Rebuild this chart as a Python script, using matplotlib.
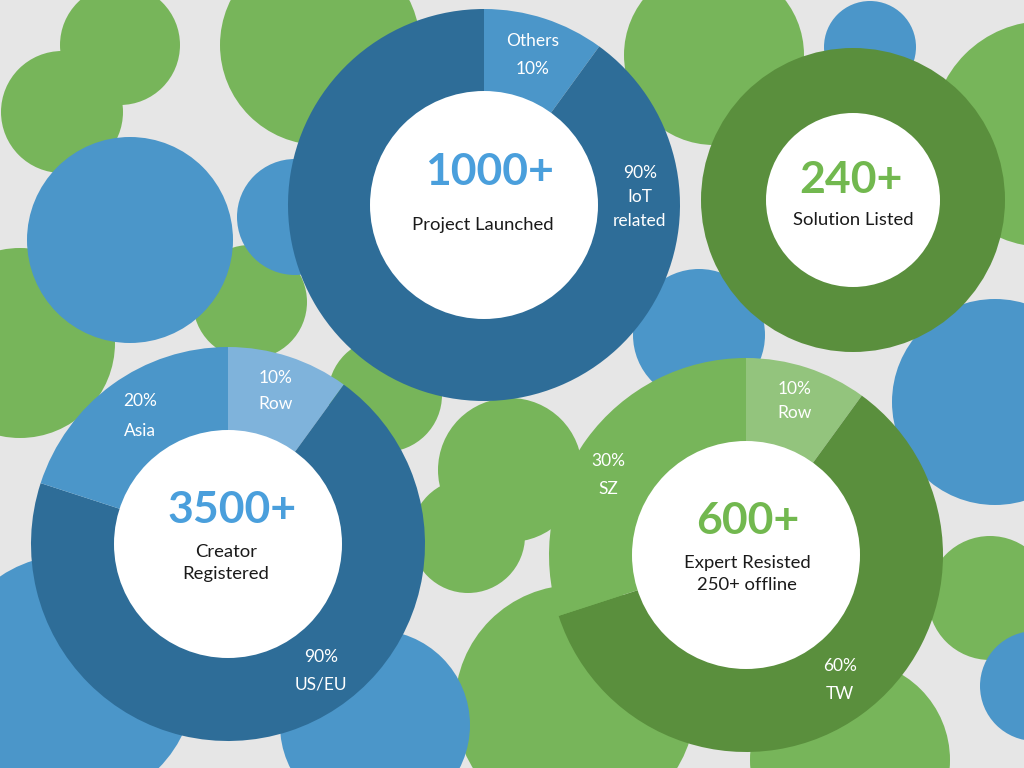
import matplotlib.pyplot as plt
from matplotlib.patches import Circle

plt.rcParams['font.family'] = ['Lato', 'DejaVu Sans']

W, H = 1024, 768

# colours
bg = '#e6e6e6'
blue_dark = '#2e6d98'
blue_mid = '#4b96c9'
blue_light = '#7fb3db'
green_mid = '#77b55a'
green_dark = '#5a8f3d'
green_light = '#93c47d'

# background decoration circles (x, y, r) in pixel space, y from top
green_circles = [(120, 45, 60), (62, 112, 61), (320, 45, 100), (714, 55, 90),
                 (1045, 134, 113), (20, 343, 95), (250, 302, 57), (385, 395, 57),
                 (510, 470, 72), (468, 536, 57), (575, 705, 120), (850, 760, 100),
                 (990, 598, 62)]
blue_circles = [(870, 47, 46), (130, 240, 103), (295, 217, 58), (699, 335, 66),
                (995, 402, 103), (70, 680, 125), (375, 725, 95), (1035, 686, 55)]

# donut data
projects_vals = [10, 90]
projects_labels = ['Others\n10%', '90%\nIoT\nrelated']
solutions_vals = [100]
creators_vals = [10, 70, 20]
creators_labels = ['10%\nRow', '90%\nUS/EU', '20%\nAsia']
experts_vals = [10, 60, 30]
experts_labels = ['10%\nRow', '60%\nTW', '30%\nSZ']

fig = plt.figure(figsize=(10.24, 7.68), dpi=100)
fig.patch.set_facecolor(bg)
ax = fig.add_axes([0, 0, 1, 1])


def Y(y):
    return H - y


for x, y, r in green_circles:
    ax.add_patch(Circle((x, Y(y)), r, color=green_mid, lw=0, zorder=1))
for x, y, r in blue_circles:
    ax.add_patch(Circle((x, Y(y)), r, color=blue_mid, lw=0, zorder=1))


def donut(vals, colors, cx, cy, R, r):
    wedges, _ = ax.pie(vals, colors=colors, center=(cx, Y(cy)), radius=R,
                       startangle=90, counterclock=False,
                       wedgeprops=dict(width=R - r + 2, linewidth=0))
    for w in wedges:
        w.set_zorder(2)
    ax.add_patch(Circle((cx, Y(cy)), r, color='white', lw=0, zorder=3))


donut(projects_vals, [blue_mid, blue_dark], 484, 205, 196, 114)
donut(solutions_vals, [green_dark], 853, 200, 152, 87)
donut(creators_vals, [blue_light, blue_dark, blue_mid], 228, 544, 197, 114)
donut(experts_vals, [green_light, green_dark, green_mid], 746, 555, 197, 114)


def label(x, y, s, **kw):
    ax.text(x, Y(y), s, ha='center', va='center', zorder=5, **kw)


# slice labels
wk = dict(color='white', fontsize=12.5)
label(533, 55, projects_labels[0], linespacing=2.0, **wk)
label(640, 197, projects_labels[1], linespacing=1.6, **wk)
label(276, 391, creators_labels[0], linespacing=1.8, **wk)
label(321, 671, creators_labels[1], linespacing=1.85, **wk)
label(140, 416, creators_labels[2], linespacing=2.0, **wk)
label(795, 401, experts_labels[0], linespacing=1.65, **wk)
label(840, 680, experts_labels[1], linespacing=1.85, **wk)
label(608, 475, experts_labels[2], linespacing=1.9, **wk)

# centre texts
num_blue = '#4a9fdc'
num_green = '#72b84f'
label(490, 172, '1000+', color=num_blue, fontsize=32, fontweight='bold')
label(483, 225, 'Project Launched', color='#1a1a1a', fontsize=13.3)
label(851, 180, '240+', color=num_green, fontsize=32, fontweight='bold')
label(853, 220, 'Solution Listed', color='#1a1a1a', fontsize=13.3)
label(232, 510, '3500+', color=num_blue, fontsize=32, fontweight='bold')
label(226, 563, 'Creator\nRegistered', color='#1a1a1a', fontsize=13.3, linespacing=1.45)
label(748, 521, '600+', color=num_green, fontsize=32, fontweight='bold')
label(747, 574, 'Expert Resisted\n250+ offline', color='#1a1a1a', fontsize=13.3, linespacing=1.5)

ax.set_xlim(0, W)
ax.set_ylim(0, H)
ax.set_aspect('equal')
ax.axis('off')

fig.savefig('out.png', dpi=100, facecolor=bg)
